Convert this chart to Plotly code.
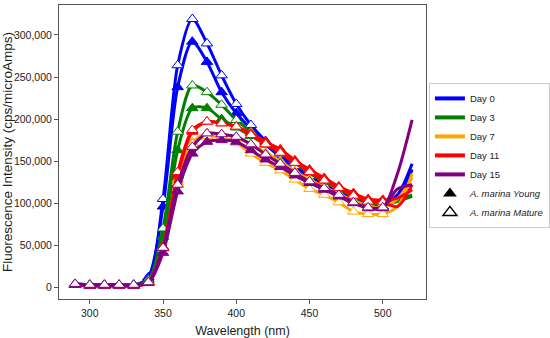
import plotly.graph_objects as go

wavelength = [290, 300, 310, 320, 330, 340, 350, 360, 370, 380, 390, 400,
              410, 420, 430, 440, 450, 460, 470, 480, 490, 500, 510, 520]

days = ["Day 0", "Day 3", "Day 7", "Day 11", "Day 15"]
colors = ["#0000ff", "#008000", "#ffa500", "#ff0000", "#800080"]

young = {
    "Day 0": [3, 2, 2, 2, 2, 12, 96, 238, 292, 268, 232, 207, 188, 170, 155, 140, 128, 120, 112, 104, 98, 96, 104, 140],
    "Day 3": [3, 2, 2, 2, 2, 8, 60, 163, 213, 213, 200, 190, 180, 170, 160, 148, 136, 126, 117, 108, 101, 99, 103, 110],
    "Day 7": [3, 2, 2, 2, 2, 6, 48, 128, 172, 183, 182, 178, 170, 160, 150, 138, 128, 119, 111, 103, 97, 95, 105, 130],
    "Day 11": [3, 2, 2, 2, 2, 6, 48, 133, 185, 197, 195, 191, 183, 173, 164, 151, 140, 130, 120, 112, 105, 104, 106, 116],
    "Day 15": [3, 2, 2, 2, 2, 5, 41, 114, 159, 173, 175, 173, 163, 152, 143, 133, 124, 116, 108, 100, 94, 94, 135, 199],
}
mature = {
    "Day 0": [4, 3, 3, 3, 3, 10, 105, 264, 319, 290, 252, 218, 193, 174, 158, 144, 132, 122, 113, 106, 100, 99, 110, 147],
    "Day 3": [4, 3, 3, 3, 3, 8, 70, 185, 240, 232, 217, 199, 185, 172, 160, 148, 136, 126, 117, 108, 101, 99, 102, 108],
    "Day 7": [3, 2, 2, 2, 2, 6, 46, 125, 170, 180, 178, 172, 159, 148, 139, 128, 117, 110, 101, 90, 87, 87, 96, 135],
    "Day 11": [3, 2, 2, 2, 2, 6, 47, 137, 187, 197, 195, 191, 181, 170, 160, 148, 137, 127, 118, 109, 102, 101, 96, 122],
    "Day 15": [4, 3, 3, 3, 3, 6, 47, 122, 167, 183, 182, 179, 170, 158, 147, 136, 126, 118, 110, 101, 95, 95, 117, 122],
}
scale = 1000
n_marked = 22  # markers drawn for 290..510 nm

FONT = "Liberation Sans, Arial, sans-serif"
fig = go.Figure()

for day, col in zip(days, colors):
    for series, filled in ((young, True), (mature, False)):
        yv = [v * scale for v in series[day]]
        fig.add_trace(go.Scatter(
            x=wavelength, y=yv, mode="lines",
            line=dict(color=col, width=3, shape="spline", smoothing=0.8),
            showlegend=False, hoverinfo="skip"))
        fig.add_trace(go.Scatter(
            x=wavelength[:n_marked], y=yv[:n_marked], mode="markers",
            marker=dict(symbol="triangle-up", size=10,
                        color=col if filled else "white",
                        line=dict(color=col, width=1)),
            showlegend=False))

for day, col in zip(days, colors):
    fig.add_trace(go.Scatter(x=[None], y=[None], mode="lines", name=day,
                             line=dict(color=col, width=4)))
fig.add_trace(go.Scatter(x=[None], y=[None], mode="markers", name="<i>A. marina Young</i>",
                         marker=dict(symbol="triangle-up", size=12, color="black")))
fig.add_trace(go.Scatter(x=[None], y=[None], mode="markers", name="<i>A. marina Mature</i>",
                         marker=dict(symbol="triangle-up-open", size=12, color="black",
                                     line=dict(width=1.5))))

axis_common = dict(showline=True, linecolor="#555", linewidth=1, mirror=True,
                   ticks="outside", ticklen=4, tickcolor="#555",
                   showgrid=False, zeroline=False, automargin=False,
                   tickfont=dict(family=FONT, size=10.5, color="#222"))

fig.update_layout(
    width=550, height=338,
    margin=dict(l=59, r=124, t=5, b=39, autoexpand=False),
    paper_bgcolor="white", plot_bgcolor="white",
    font=dict(family=FONT, color="#222"),
    xaxis=dict(range=[279, 529.5], tickvals=[300, 350, 400, 450, 500],
               title=dict(text="Wavelength (nm)", font=dict(size=12.5)),
               **axis_common),
    yaxis=dict(range=[-13900, 335650], tickvals=[0, 50000, 100000, 150000, 200000, 250000, 300000],
               tickformat=",d",
               title=dict(text="Fluorescence Intensity (cps/microAmps)", font=dict(size=13.5)),
               **axis_common),
    legend=dict(x=1.008, y=0.735, xanchor="left", yanchor="top",
                bordercolor="#ccc", borderwidth=1, bgcolor="white",
                font=dict(family=FONT, size=9.5, color="#222"),
                tracegroupgap=0, itemwidth=30),
)

fig.write_html("out.html", config={"displayModeBar": False},
               post_script="document.body.style.margin='0';")
